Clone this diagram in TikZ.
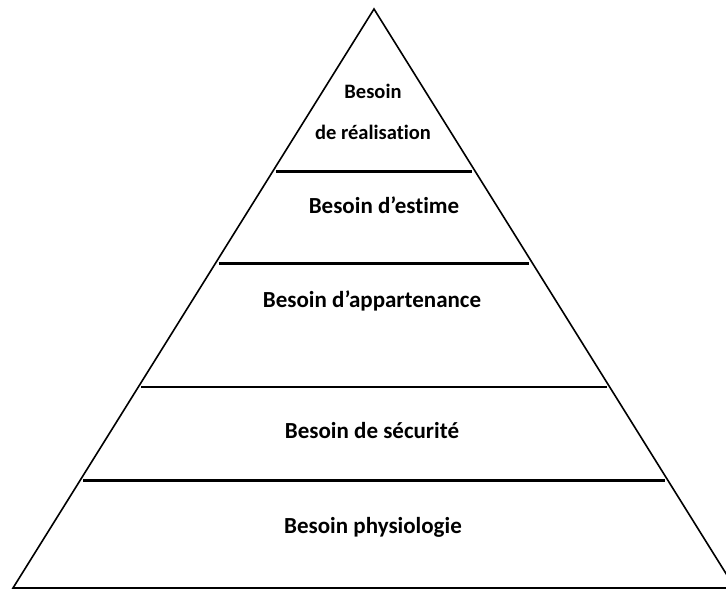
\documentclass[tikz,border=0pt]{standalone}
\usepackage{fontspec}
\setmainfont{Carlito}[Ligatures=NoCommon]
\usetikzlibrary{calc}

\begin{document}
\begin{tikzpicture}[
  x=1pt, y=-1pt,
  level/.style={line width=2.8pt},
  lbl/.style={font=\fontsize{23}{26}\selectfont\bfseries, inner sep=0pt, anchor=base},
  toplbl/.style={font=\fontsize{20.5}{22}\selectfont\bfseries, inner sep=0pt, anchor=base}
]
  \useasboundingbox (0,0) rectangle (726,590);
  \clip (0,0) rectangle (726,590);

  \coordinate (A) at (374,9);
  \coordinate (L) at (13,588);
  \coordinate (R) at (735,588);

  % pyramid outline
  \draw[line width=1.6pt, line join=miter] (L) -- (A) -- (R) -- cycle;

  % levels
  \foreach \t/\n in {0.720/1, 0.561/2, 0.347/3, 0.185/4} {
    \draw[level] ($(L)!\t!(A)+(3,0)$) -- ($(R)!\t!(A)+(-3,0)$);
  }

  \node[toplbl] (real1) at (373,98) {Besoin};
  \node[toplbl] (real2) at (373,139) {de réalisation};
  \node[lbl] (estime) at (384,213) {Besoin d’estime};
  \node[lbl] (appart) at (372,307) {Besoin d’appartenance};
  \node[lbl] (secu) at (372,438) {Besoin de sécurité};
  \node[lbl] (physio) at (373,533) {Besoin physiologie};
\end{tikzpicture}
\end{document}
